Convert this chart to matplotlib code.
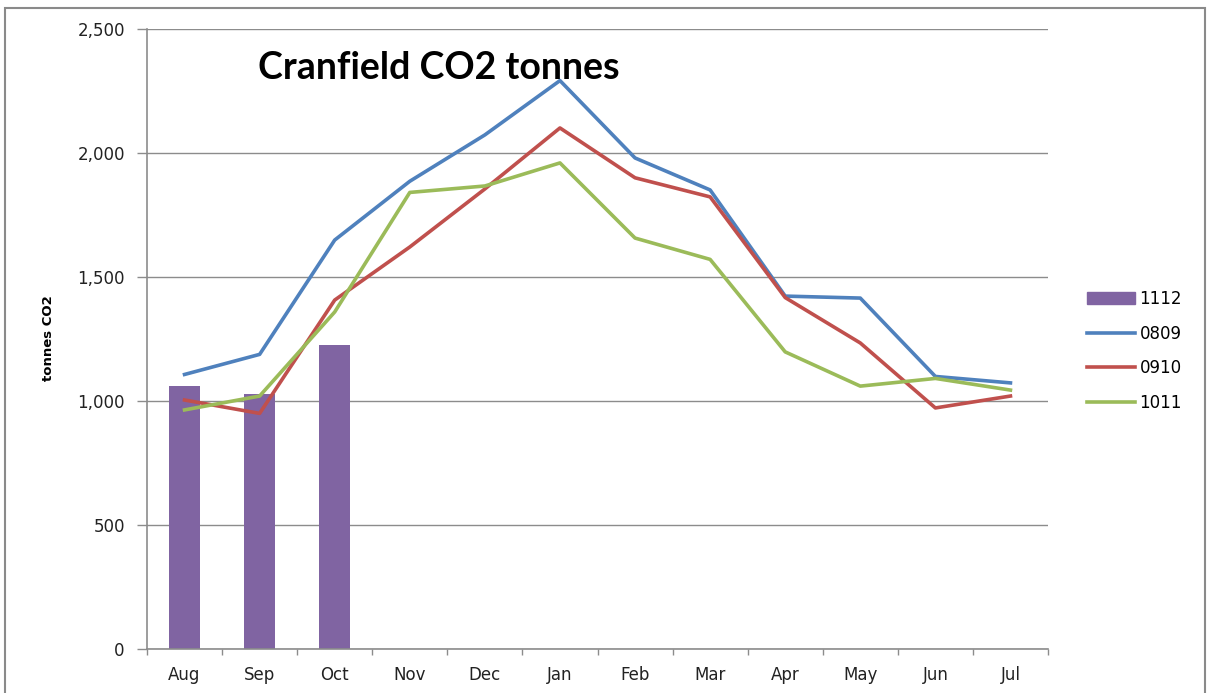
import matplotlib.pyplot as plt
import numpy as np
from matplotlib.patches import Rectangle
from matplotlib.lines import Line2D

plt.rcParams['font.family'] = ['DejaVu Sans']

# ── Data ──────────────────────────────────────────────────────────────────────
months = ["Aug", "Sep", "Oct", "Nov", "Dec", "Jan",
          "Feb", "Mar", "Apr", "May", "Jun", "Jul"]
co2_1112 = [1062, 1030, 1226]
co2_0809 = [1107, 1188, 1649, 1886, 2073, 2292, 1980, 1851, 1423, 1415, 1099, 1073]
co2_0910 = [1004, 950, 1407, 1621, 1855, 2101, 1900, 1823, 1417, 1234, 972, 1020]
co2_1011 = [964, 1020, 1359, 1841, 1867, 1960, 1657, 1571, 1198, 1060, 1091, 1044]

PURPLE = "#8064A2"
BLUE = "#4F81BD"
RED = "#C0504D"
GREEN = "#9BBB59"
GRID = "#8c8c8c"
TXT = "#222222"
LW = 2.6

fig = plt.figure(figsize=(12.07, 6.93), dpi=100)
fig.patches.append(Rectangle((5 / 1207, -0.01), 1200 / 1207, (693 - 8) / 693 + 0.01,
                             transform=fig.transFigure, fill=False,
                             edgecolor="#8a8a8a", linewidth=1.5))
ax = fig.add_axes([147 / 1207, 44 / 693, 901 / 1207, 620 / 693])

x = np.arange(len(months))
ax.bar(x[:len(co2_1112)], co2_1112, width=0.42, color=PURPLE, zorder=2)
ax.plot(x, co2_0809, color=BLUE, lw=LW, zorder=3)
ax.plot(x, co2_0910, color=RED, lw=LW, zorder=3)
ax.plot(x, co2_1011, color=GREEN, lw=LW, zorder=3)

ax.set_xlim(-0.5, len(months) - 0.5)
ax.set_ylim(0, 2500)
ax.set_yticks(np.arange(0, 2501, 500))
ax.set_yticklabels([f"{v:,}" for v in range(0, 2501, 500)])
ax.yaxis.grid(True, color=GRID, lw=1.0)
ax.set_axisbelow(True)

ax.set_xticks(x)
ax.set_xticklabels(months)
ax.set_xticks(np.arange(-0.5, len(months)), minor=True)
ax.tick_params(axis="x", which="major", length=0, pad=12,
               labelsize=12, labelcolor=TXT)
ax.tick_params(axis="x", which="minor", length=4, width=1, color=GRID)
ax.tick_params(axis="y", length=7, width=1, color=GRID, pad=9,
               labelsize=12, labelcolor=TXT)

for s in ["top", "right"]:
    ax.spines[s].set_visible(False)
for s in ["left", "bottom"]:
    ax.spines[s].set_color(GRID)
    ax.spines[s].set_linewidth(1.2)

fig.text(48 / 1207, 1 - 338 / 693, "tonnes CO2", rotation=90, fontsize=9.5,
         fontweight="bold", ha="center", va="center")
fig.text(258 / 1207, 1 - 68 / 693, "Cranfield CO2 tonnes", fontsize=27,
         fontweight="bold", ha="left", va="center", family="Lato")

handles = [Rectangle((0, 0), 1, 1, color=PURPLE),
           Line2D([], [], color=BLUE, lw=LW),
           Line2D([], [], color=RED, lw=LW),
           Line2D([], [], color=GREEN, lw=LW)]
fig.legend(handles, ["1112", "0809", "0910", "1011"],
           loc="center left", bbox_to_anchor=(1072 / 1207, 1 - 351 / 693),
           frameon=False, fontsize=12, handlelength=2.9, handletextpad=0.25,
           labelspacing=1.0)

fig.savefig("out.png", dpi=100)
